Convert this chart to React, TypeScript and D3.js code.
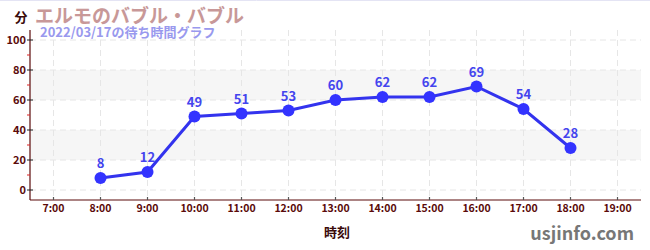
import React from "react";
import * as d3 from "d3";

const hours = [8, 9, 10, 11, 12, 13, 14, 15, 16, 17, 18];
const waits = [8, 12, 49, 51, 53, 60, 62, 62, 69, 54, 28];
const xTickHours = [7, 8, 9, 10, 11, 12, 13, 14, 15, 16, 17, 18, 19];
const yTicks = [0, 20, 40, 60, 80, 100];
const yMinorTicks = [10, 30, 50, 70, 90];
const bands = [[20, 40], [60, 80]];

const W = 650, H = 250;
const L = 30, R = 641, T = 30, B = 200;

export default function App() {
  const x = d3.scaleLinear().domain([6.5, 19.5]).range([L, R]);
  const y = d3.scaleLinear().domain([0, 100]).range([190, 40]);
  const line = d3.line<number>().x((_, i) => x(hours[i])).y((d) => y(d));
  const font = "'Noto Sans CJK JP', 'Noto Sans', sans-serif";
  const dark = "#5a0a0a";
  return (
    <svg width={W} height={H} style={{ position: "absolute", left: 0, top: 0, fontFamily: font }}>
      <rect x={0} y={0} width={W} height={H} fill="#fff" />
      <line x1={0} x2={W} y1={0.5} y2={0.5} stroke="#e4e4f4" />
      {bands.map(([a, b], i) => (
        <rect key={i} x={L} width={R - L} y={y(b)} height={y(a) - y(b)} fill="#f6f6f6" />
      ))}
      {yTicks.map((t) => (
        <line key={"gy" + t} x1={L} x2={R} y1={y(t)} y2={y(t)} stroke="#e6e6e6" strokeDasharray="6,4" />
      ))}
      {xTickHours.map((h) => (
        <line key={"gx" + h} x1={x(h)} x2={x(h)} y1={T} y2={B} stroke="#e6e6e6" strokeDasharray="6,4" />
      ))}
      <line x1={L} x2={L} y1={T} y2={B} stroke={dark} strokeWidth={1.2} />
      <line x1={L} x2={R} y1={B} y2={B} stroke={dark} strokeWidth={1.2} />
      {yTicks.map((t) => (
        <g key={"yt" + t}>
          <line x1={L - 3} x2={L + 3} y1={y(t)} y2={y(t)} stroke="#222" />
          <text x={L - 4} y={y(t)} dy="0.35em" textAnchor="end" fontSize={11} fontWeight="bold" fill={dark}>{t}</text>
        </g>
      ))}
      {yMinorTicks.map((t) => (
        <line key={"ym" + t} x1={L - 3} x2={L} y1={y(t)} y2={y(t)} stroke="#d22" />
      ))}
      {xTickHours.map((h) => (
        <g key={"xt" + h}>
          <line x1={x(h)} x2={x(h)} y1={B - 3} y2={B} stroke="#555" strokeWidth={1.2} />
          <text x={x(h)} y={B + 12} textAnchor="middle" fontSize={10.5} fontWeight="bold" fill={dark}>{h}:00</text>
        </g>
      ))}
      <path d={line(waits) || ""} fill="none" stroke="#3333ee" strokeWidth={3} />
      {waits.map((v, i) => (
        <g key={"p" + i}>
          <circle cx={x(hours[i])} cy={y(v)} r={6} fill="#3333ff" />
          <text x={x(hours[i])} y={y(v) - 10} textAnchor="middle" fontSize={13} fontWeight="bold" fill="#4444ee">{v}</text>
        </g>
      ))}
      <text x={21} y={22} textAnchor="middle" fontSize={13} fontWeight="bold" fill="#3a0a0a">分</text>
      <text x={35} y={23} fontSize={19} fontWeight="bold" fill="#c89898">エルモのバブル・バブル</text>
      <text x={40} y={37} fontSize={13} fontWeight="bold" fill="#9999ee">2022/03/17の待ち時間グラフ</text>
      <text x={337} y={237} textAnchor="middle" fontSize={13} fontWeight="bold" fill="#3a0a0a">時刻</text>
      <text x={634} y={240} textAnchor="end" fontSize={18} fontWeight="bold" fill="#777">usjinfo.com</text>
    </svg>
  );
}
